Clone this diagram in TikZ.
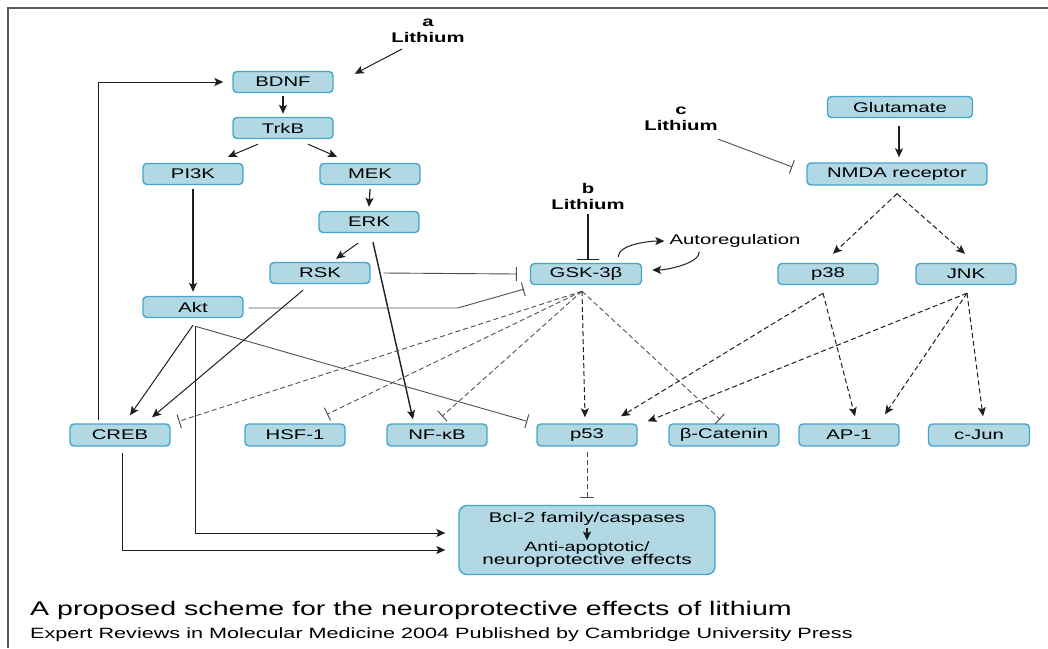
\documentclass[tikz,border=0pt]{standalone}
\usepackage{fontspec}
\setmainfont[FakeStretch=1.45]{Liberation Sans}
\usetikzlibrary{arrows.meta,calc}
\definecolor{boxfill}{HTML}{B2D8E4}
\definecolor{boxline}{HTML}{45A5CC}
\definecolor{ink}{HTML}{1E1E1E}
\definecolor{inh}{HTML}{505050}
\begin{document}
\begin{tikzpicture}[x=1pt,y=-1pt,
  box/.style={draw=boxline, fill=boxfill, line width=1.4pt, rounded corners=4pt,
    minimum width=100pt, minimum height=21pt, inner sep=0pt,
    font=\fontsize{14}{16}\selectfont},
  lab/.style={align=center, inner sep=0pt, font=\fontsize{14}{16}\selectfont\bfseries},
  txt/.style={inner sep=0pt, font=\fontsize{14}{16}\selectfont},
  arr/.style={-{Stealth[length=9pt,width=8pt,inset=2pt]}, line width=1.2pt, draw=ink},
  inhib/.style={-{Bar[width=14pt,line width=1pt]}, line width=0.9pt, draw=inh},
  darr/.style={arr, dash pattern=on 5pt off 3pt, line width=1pt},
  dinh/.style={inhib, dash pattern=on 5pt off 3pt},
]
\useasboundingbox (0,0) rectangle (1048,648);
\fill[white] (0,0) rectangle (1048,648);
\draw[line width=1.5pt, color=black!65] (8,648) -- (8,8) -- (1048,8);

% nodes
\node[box] (BDNF) at (283,82) {BDNF};
\node[box] (TrkB) at (283,128) {TrkB};
\node[box] (PI3K) at (193,174) {PI3K};
\node[box] (MEK) at (370,174) {MEK};
\node[box] (ERK) at (369,222) {ERK};
\node[box] (RSK) at (320,273) {RSK};
\node[box] (Akt) at (193,307) {Akt};
\node[box, minimum width=111pt] (GSK) at (586,274) {GSK-3β};
\node[box] (p38) at (828,274) {p38};
\node[box] (JNK) at (966,274) {JNK};
\node[box, minimum width=145pt] (Glu) at (900,107) {Glutamate};
\node[box, minimum width=180pt, minimum height=22pt] (NMDA) at (897,174) {NMDA receptor};
\node[box, minimum height=22pt] (CREB) at (120,435) {CREB};
\node[box, minimum height=22pt] (HSF) at (295,435) {HSF-1};
\node[box, minimum height=22pt] (NFkB) at (437,435) {NF-κB};
\node[box, minimum height=22pt] (p53) at (587,435) {p53};
\node[box, minimum height=22pt, minimum width=110pt] (bcat) at (724,435) {β-Catenin};
\node[box, minimum height=22pt] (AP1) at (849,435) {AP-1};
\node[box, minimum height=22pt, minimum width=101pt] (cJun) at (979,435) {c-Jun};
\node[box, minimum width=256pt, minimum height=69pt, rounded corners=8pt] (Bcl) at (587,540) {};
\node[txt] (BclT) at (587,519) {Bcl-2 family/caspases};
\node[txt, font=\fontsize{13.5}{15}\selectfont] (AntiT) at (587,548) {Anti-apoptotic/};
\node[txt, font=\fontsize{14.3}{15}\selectfont] (NeuroT) at (587,561) {neuroprotective effects};

\node[lab] (LiA) at (428,31) {a\\Lithium};
\node[lab] (LiB) at (588,196) {b\\Lithium};
\node[lab] (LiC) at (681,119) {c\\Lithium};
\node[txt] (Auto) at (735,241) {Autoregulation};

\node[anchor=base west, inner sep=0pt, font=\fontsize{19.7}{22}\selectfont] (cap1) at (30,615) {A proposed scheme for the neuroprotective effects of lithium};
\node[anchor=base west, inner sep=0pt, font=\fontsize{14.9}{16}\selectfont] (cap2) at (30,638) {Expert Reviews in Molecular Medicine 2004 Published by Cambridge University Press};

% solid arrows
\draw[arr, line width=1pt] ($(LiA.south)+(-26,6)$) -- ($(BDNF.north east)+(21,3)$);
\draw[arr] ($(BDNF.south)+(0,3)$) -- ($(TrkB.north)+(0,-3)$);
\draw[arr, line width=1pt] ($(TrkB.south)+(-25,5)$) -- ($(PI3K.north)+(35,-6)$);
\draw[arr, line width=1pt] ($(TrkB.south)+(25,5)$) -- ($(MEK.north)+(-33,-6)$);
\draw[arr] ($(PI3K.south)+(0,4)$) -- ($(Akt.north)+(0,-4)$);
\draw[arr] ($(MEK.south)+(0,4)$) -- ($(ERK.north)+(0,-4)$);
\draw[arr, line width=1pt] ($(ERK.south)+(-11,10)$) -- ($(RSK.north)+(16,-3)$);
\draw[arr, line width=1.4pt] ($(ERK.south)+(4,9)$) -- ($(NFkB.north)+(-24,-4)$);
\draw[arr, line width=1pt] ($(Akt.south)+(0,7)$) -- ($(CREB.north)+(10,-8)$);
\draw[arr, line width=1pt] ($(RSK.south)+(-17,6)$) -- ($(CREB.north)+(32,-6)$);
\draw[arr, line width=1pt] ($(Akt.south)+(2,8)$) |- ($(Bcl.west)+(-13,-7)$);
\draw[arr, line width=1pt] ($(CREB.south)+(2,6)$) |- ($(Bcl.west)+(-13,10)$);
\draw[arr, line width=1pt] ($(CREB.north)+(-22,-3)$) |- ($(BDNF.west)+(-9,0)$);
\draw[arr] ($(Glu.south)+(-1,8)$) -- ($(NMDA.north)+(2,-5)$);
\draw[arr, line width=1.2pt] ($(BclT.south)+(0,2)$) -- ($(AntiT.north)+(0,-1)$);

% autoregulation
\draw[arr, line width=1pt] ($(GSK.north east)+(-24,-6)$) .. controls +(0,-12) and +(-16,0) .. ($(Auto.west)+(-5,0)$);
\draw[arr, line width=1pt] ($(Auto.south west)+(30,4)$) .. controls +(0,12) and +(14,0) .. ($(GSK.east)+(10,-4)$);

% inhibitions (solid)
\draw[inhib] ($(RSK.east)+(13,0)$) -- ($(GSK.west)+(-13,0)$);
\draw[inhib] ($(Akt.east)+(5,1)$) -- ($(Akt.east)+(214,1)$) -- ($(GSK.south west)+(-6,4)$);
\draw[inhib] ($(Akt.south)+(2,8)$) -- ($(p53.north west)+(-9,-2)$);
\draw[inhib, -{Bar[width=22pt,line width=1.2pt]}, line width=1.2pt, draw=ink] ($(LiB.south)+(0,5)$) -- ($(GSK.north)+(2,-3)$);
\draw[inhib] ($(LiC.south east)+(0,8)$) -- ($(NMDA.west)+(-14,-7)$);

% dashed from GSK-3beta
\coordinate (g) at ($(GSK.south)+(-4,6)$);
\draw[dinh] (g) -- ($(CREB.north east)+(8,-2)$);
\draw[dinh] (g) -- ($(HSF.north)+(32,-9)$);
\draw[dinh] (g) -- ($(NFkB.north)+(5,-7)$);
\draw[darr] (g) -- ($(p53.north)+(-2,-6)$);
\draw[dinh] (g) -- ($(bcat.north)+(-4,-4)$);
\draw[dinh, line width=1pt] ($(p53.south)+(0,5)$) -- ($(Bcl.north)+(0,-7)$);

% dashed from NMDA, p38, JNK
\draw[darr] ($(NMDA.south)+(0,8)$) -- ($(p38.north)+(5,-9)$);
\draw[darr] ($(NMDA.south)+(0,8)$) -- ($(JNK.north)+(-1,-9)$);
\coordinate (q) at ($(p38.south)+(-5,8)$);
\coordinate (j) at ($(JNK.south)+(1,8)$);
\draw[darr] (q) -- ($(p53.north)+(34,-7)$);
\draw[darr] (q) -- ($(AP1.north)+(6,-7)$);
\draw[darr] (j) -- ($(p53.north east)+(10,-2)$);
\draw[darr] (j) -- ($(AP1.north)+(36,-9)$);
\draw[darr] (j) -- ($(cJun.north)+(4,-7)$);
\end{tikzpicture}
\end{document}
